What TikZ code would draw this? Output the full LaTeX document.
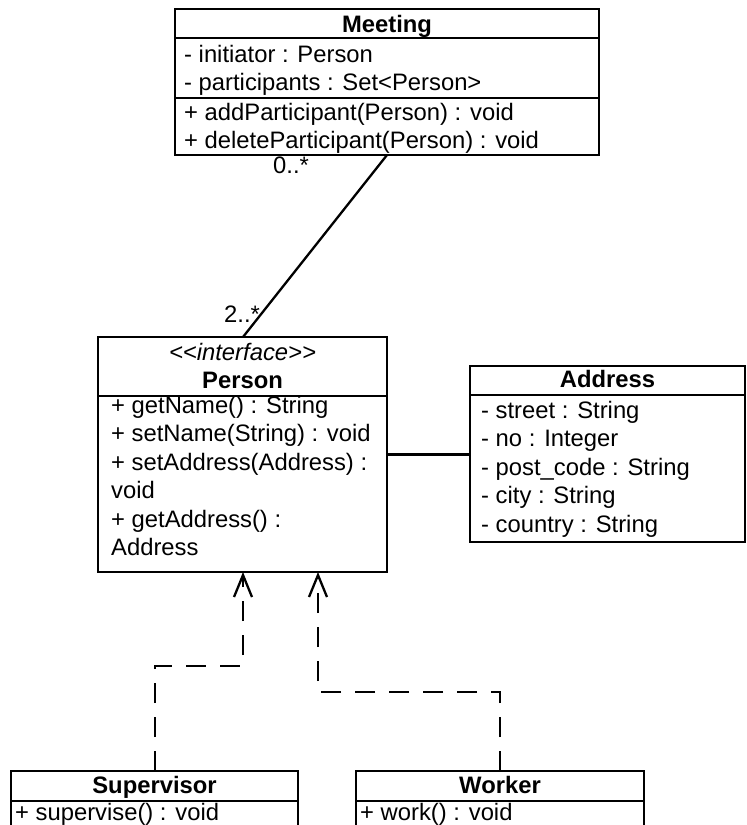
\documentclass[tikz,border=0pt]{standalone}
\usepackage{fontspec}
\setmainfont{Liberation Sans}[Ligatures=TeXOff]
\usetikzlibrary{arrows.meta}

\newcommand{\umlsize}{\fontsize{23.8pt}{28pt}\selectfont}

\tikzset{
  classbox/.style={draw, line width=2.7pt, anchor=north west, inner sep=0pt, outer sep=0pt},
  divider/.style={line width=2.7pt},
  member/.style={anchor=base west, inner sep=0pt, font=\umlsize},
  classname/.style={anchor=base, inner sep=0pt, font=\umlsize\bfseries},
  stereotype/.style={anchor=base, inner sep=0pt, font=\umlsize\itshape},
  mult/.style={anchor=base west, inner sep=0pt, font=\umlsize},
  assoc/.style={line width=2.3pt},
  realize/.style={line width=2.3pt, dash pattern=on 20pt off 14pt,
    -{Straight Barb[length=22pt,width=18pt]}},
}

\begin{document}
\begin{tikzpicture}[x=1pt, y=-1pt]
  \useasboundingbox (0,0) rectangle (747,825);
  \clip (0,0) rectangle (747,825);

  % ---- Meeting ----
  \node[classbox, minimum width=424pt, minimum height=146pt] (meeting) at (175,9) {};
  \draw[divider] ([yshift=-29pt]meeting.north west) -- ([yshift=-29pt]meeting.north east);
  \draw[divider] ([yshift=-89pt]meeting.north west) -- ([yshift=-89pt]meeting.north east);
  \node[classname] (meeting-name) at (387,32) {Meeting};
  \node[member] (meeting-a1) at (184,62) {- initiator : Person};
  \node[member] (meeting-a2) at (184,90) {- participants : Set<Person>};
  \node[member] (meeting-o1) at (184,120) {+ addParticipant(Person) : void};
  \node[member] (meeting-o2) at (184,148) {+ deleteParticipant(Person) : void};

  % ---- Person ----
  \node[classbox, minimum width=289pt, minimum height=235pt] (person) at (98,337) {};
  \draw[divider] ([yshift=-59pt]person.north west) -- ([yshift=-59pt]person.north east);
  \node[stereotype] (person-st) at (242.5,360) {<<interface>>};
  \node[classname] (person-name) at (242.5,388) {Person};
  \node[member] (person-o1) at (111,413) {+ getName() : String};
  \node[member] (person-o2) at (111,441) {+ setName(String) : void};
  \node[member] (person-o3) at (111,470) {+ setAddress(Address) :};
  \node[member] (person-o3b) at (111,498) {void};
  \node[member] (person-o4) at (111,527) {+ getAddress() :};
  \node[member] (person-o4b) at (111,555) {Address};

  % ---- Address ----
  \node[classbox, minimum width=275pt, minimum height=176pt] (address) at (470,366) {};
  \draw[divider] ([yshift=-29pt]address.north west) -- ([yshift=-29pt]address.north east);
  \node[classname] (address-name) at (607.5,387) {Address};
  \node[member] (address-a1) at (481,418) {- street : String};
  \node[member] (address-a2) at (481,446) {- no : Integer};
  \node[member] (address-a3) at (481,475) {- post\_code : String};
  \node[member] (address-a4) at (481,503) {- city : String};
  \node[member] (address-a5) at (481,532) {- country : String};

  % ---- Supervisor ----
  \node[classbox, minimum width=287pt, minimum height=90pt] (supervisor) at (11,771) {};
  \draw[divider] ([yshift=-30pt]supervisor.north west) -- ([yshift=-30pt]supervisor.north east);
  \node[classname] (supervisor-name) at (154.5,793) {Supervisor};
  \node[member] (supervisor-o1) at (15,820) {+ supervise() : void};

  % ---- Worker ----
  \node[classbox, minimum width=288pt, minimum height=90pt] (worker) at (356,771) {};
  \draw[divider] ([yshift=-30pt]worker.north west) -- ([yshift=-30pt]worker.north east);
  \node[classname] (worker-name) at (500,793) {Worker};
  \node[member] (worker-o1) at (360,820) {+ work() : void};

  % ---- associations ----
  \draw[assoc] ([xshift=212pt]meeting.south west) -- ([xshift=145pt]person.north west);
  \node[mult] (mult-meeting) at (273,173) {0..*};
  \node[mult] (mult-person) at (224,322) {2..*};
  \draw[assoc] (person.east) -- (person.east -| address.west);

  % ---- interface realizations ----
  \draw[realize] ([xshift=144pt]supervisor.north west)
    |- ([xshift=145pt,yshift=-94pt]person.south west)
    -- ([xshift=145pt]person.south west);
  \draw[realize] ([xshift=144pt]worker.north west)
    |- ([xshift=220pt,yshift=-120pt]person.south west)
    -- ([xshift=220pt]person.south west);
\end{tikzpicture}
\end{document}
